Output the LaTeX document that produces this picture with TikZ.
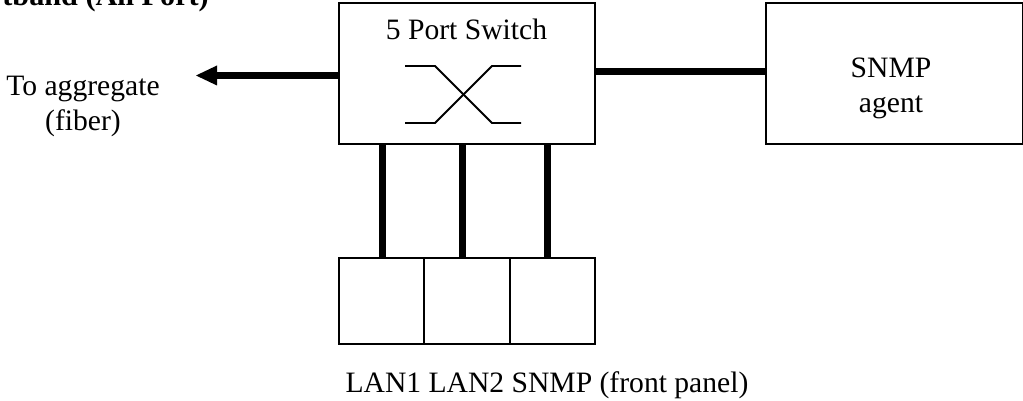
\documentclass[tikz,border=0pt]{standalone}
\usepackage{fontspec}
\setmainfont{Liberation Serif}
\tikzset{
  box/.style={draw, line width=2pt, inner sep=0pt},
  link/.style={line width=7pt},
  label/.style={font=\fontsize{29.6}{35}\selectfont, align=center, inner sep=0pt},
}
\begin{document}
\begin{tikzpicture}[x=1pt,y=-1pt]
\useasboundingbox (0,0) rectangle (1023,401);
\clip (0,0) rectangle (1023,401);

\node[box, anchor=north west, minimum width=256.5pt, minimum height=141pt] (switch) at (337.5,2) {};
\node[box, anchor=north west, minimum width=256.5pt, minimum height=141pt] (agent) at (765,2) {};
\node[box, anchor=north west, minimum width=85.5pt, minimum height=86pt] (lan1) at (337.5,257) {};
\node[box, anchor=north west, minimum width=85.5pt, minimum height=86pt] (lan2) at (423,257) {};
\node[box, anchor=north west, minimum width=85.5pt, minimum height=86pt] (snmp) at (508.5,257) {};

\node[label, anchor=base] (title) at (466.5,40) {5 Port Switch};
\node[label, anchor=base] (agentname) at (891,113) {SNMP\\agent};
\node[label, anchor=base] (aggregate) at (83,131) {To aggregate\\(fiber)};
\node[label, anchor=base] (panel) at (547,392) {LAN1 LAN2 SNMP (front panel)};
\node[label, anchor=base east, font=\bfseries\fontsize{30.2}{35}\selectfont] (band) at (209,5.5) {tband (All Port)};

\coordinate (tip) at (196,75.5);
\coordinate (leftport) at (337.5,75.5);
\coordinate (rightport) at (594,71.8);
\coordinate (top1) at (382.7,257);
\coordinate (top2) at (462.7,257);
\coordinate (top3) at (547.3,257);

\draw[link] (leftport) -- (216,75.5);
\fill (tip) -- (217,65.5) -- (217,85.5) -- cycle;
\draw[link] (rightport) -- (agent.west |- rightport);
\draw[link] (top1) -- (top1 |- switch.south);
\draw[link] (top2) -- (top2 |- switch.south);
\draw[link] (top3) -- (top3 |- switch.south);

\draw[line width=1.8pt] (405,66) -- (435,66) -- (492,123) -- (521,123);
\draw[line width=1.8pt] (405,123) -- (435,123) -- (492,66) -- (521,66);
\end{tikzpicture}
\end{document}
